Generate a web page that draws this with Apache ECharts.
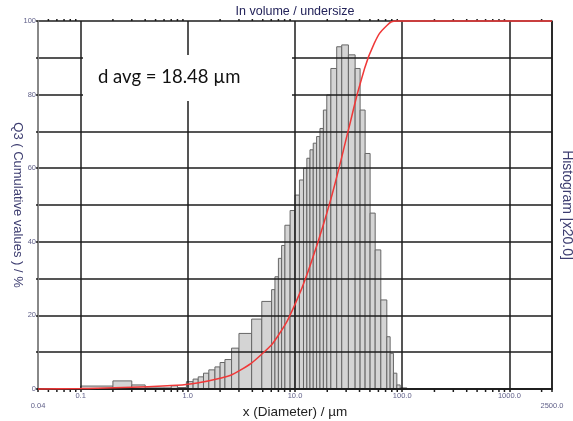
<!DOCTYPE html>
<html>
<head>
<meta charset="utf-8">
<script src="https://cdn.jsdelivr.net/npm/echarts@6/dist/echarts.min.js"></script>
<style>html,body{margin:0;padding:0;background:#fff;}#c{width:573px;height:421px;}</style>
</head>
<body>
<div id="c"></div>
<script>
// Histogram bin edges (µm) and bar heights (scaled x20, same 0-100 axis)
const binEdges = [0.1, 0.2, 0.3, 0.4, 0.5, 0.6, 0.7, 0.8, 0.97, 1.12, 1.25, 1.4, 1.57, 1.79, 2.0, 2.22, 2.56, 3.0, 3.94, 4.9,
  6.05, 6.5, 7.0, 7.5, 8.05, 9.0, 10.0, 11.0, 12.0, 12.9, 13.8, 14.8, 15.9, 17.1, 18.4, 19.8, 21.6, 24.5, 27.3, 31.5,
  36.4, 40.5, 45.1, 50.2, 56.0, 63.2, 71.9, 77.2, 82.9, 89.2, 95.8, 110.6];
const binHeights = [0.8, 2.2, 1.1, 0.3, 0.3, 0.3, 0.9, 0.4, 2.0, 2.7, 3.3, 4.3, 5.2, 6.0, 7.2, 8.0, 11.1, 15.1, 19.0, 23.8,
  27.0, 30.5, 35.5, 39.0, 44.5, 48.5, 52.7, 56.8, 60.0, 62.7, 65.0, 66.8, 68.6, 70.8, 75.8, 79.9, 87.1, 93.0, 93.5, 90.8,
  87.1, 75.8, 64.0, 47.8, 37.8, 24.2, 14.2, 9.7, 4.3, 1.1, 0.3];

// Cumulative curve Q3 (%)
const cumDiameter = [0.04, 0.1, 0.3, 0.7, 1.0, 2.0, 3.0, 5.0, 7.0, 10, 14, 20, 25, 32, 42, 55, 72, 90, 1000, 2500];
const cumQ3 = [0, 0.15, 0.45, 0.95, 1.3, 2.9, 4.9, 9.7, 14.6, 23.0, 34.0, 48.2, 58.6, 71.2, 84.5, 94.0, 98.8, 100, 100, 100];

// Axis tick labels
const xTickValues = [0.04, 0.1, 1, 10, 100, 1000, 2500];
const xTickLabels = ['0.04', '0.1', '1.0', '10.0', '100.0', '1000.0', '2500.0'];
const minorTickValues = [0.05, 0.06, 0.07, 0.08, 0.09, 0.2, 0.3, 0.4, 0.5, 0.6, 0.7, 0.8, 0.9,
  2, 3, 4, 5, 6, 7, 8, 9, 20, 30, 40, 50, 60, 70, 80, 90, 200, 300, 400, 500, 600, 700, 800, 900, 2000];
const yTickLabels = ['0', '20', '40', '60', '80', '100'];

const bins = binHeights.map((h, i) => [binEdges[i], binEdges[i + 1], h]);
const cumData = cumDiameter.map((d, i) => [d, cumQ3[i]]);

const labelColor = '#5f5f88';
const gridColor = '#1c1c1c';

const chart = echarts.init(document.getElementById('c'), null, {renderer: 'canvas'});
chart.setOption({
  animation: false,
  backgroundColor: '#fff',
  grid: {left: 38, right: 21, top: 21, bottom: 32, containLabel: false, outerBoundsMode: 'none'},
  xAxis: [{
    type: 'log', logBase: 10, min: 0.04, max: 2500, position: 'bottom',
    axisLine: {show: true, lineStyle: {color: gridColor, width: 1.5}},
    axisTick: {show: true, length: 3, inside: false, lineStyle: {color: gridColor, width: 1.5}},
    splitLine: {show: true, lineStyle: {color: gridColor, width: 1.5}},
    minorTick: {show: false}, minorSplitLine: {show: false},
    axisLabel: {
      show: true, showMinLabel: true, showMaxLabel: true, margin: 3,
      fontFamily: 'Liberation Sans', fontSize: 7.5, color: labelColor,
      formatter: function (v) {
        let idx = 0, best = Infinity;
        xTickValues.forEach((t, i) => { const d = Math.abs(Math.log10(t) - Math.log10(v)); if (d < best) { best = d; idx = i; } });
        const s = xTickLabels[idx];
        return (idx === 0 || idx === xTickValues.length - 1) ? '{lo|' + s + '}' : s;
      },
      rich: {lo: {fontFamily: 'Liberation Sans', fontSize: 7.5, color: labelColor, padding: [10, 0, 0, 0]}}
    },
    name: 'x (Diameter) / µm', nameLocation: 'middle', nameGap: 16, nameMoveOverlap: false,
    nameTextStyle: {fontFamily: 'Liberation Sans', fontSize: 13.5, color: '#222'}
  }, {
    type: 'log', logBase: 10, min: 0.04, max: 2500, position: 'top',
    axisLine: {show: true, lineStyle: {color: gridColor, width: 1.5}},
    axisTick: {show: false}, axisLabel: {show: false}, splitLine: {show: false}
  }],
  yAxis: [{
    type: 'value', min: 0, max: 100, interval: 10, position: 'left',
    axisLine: {show: true, lineStyle: {color: '#9a9a9a', width: 1.5}},
    axisTick: {show: true, length: 2, lineStyle: {color: gridColor, width: 1.5}},
    splitLine: {show: true, lineStyle: {color: gridColor, width: 1.5}},
    axisLabel: {
      margin: 2, fontFamily: 'Liberation Sans', fontSize: 7.5, color: labelColor,
      formatter: function (v) { const s = String(v); return yTickLabels.indexOf(s) >= 0 ? s : ''; }
    },
    name: 'Q3 ( Cumulative values ) / %', nameLocation: 'middle', nameRotate: -90, nameGap: 14, nameMoveOverlap: false,
    nameTextStyle: {fontFamily: 'Liberation Sans', fontSize: 13, color: '#3d3d70'}
  }, {
    type: 'value', min: 0, max: 100, interval: 10, position: 'right',
    axisLine: {show: true, lineStyle: {color: gridColor, width: 1.5}},
    axisTick: {show: false}, axisLabel: {show: false}, splitLine: {show: false},
    name: 'Histogram [x20.0]', nameLocation: 'middle', nameRotate: -90, nameGap: 8, nameMoveOverlap: false,
    nameTextStyle: {fontFamily: 'Liberation Sans', fontSize: 14, color: '#3d3d70'}
  }],
  graphic: [{
    type: 'text', z: 101, x: 295, y: 12,
    style: {text: 'In volume / undersize', fontFamily: 'Liberation Sans', fontSize: 12.5, fill: '#23235a', align: 'center', verticalAlign: 'middle'}
  }, {
    type: 'rect', z: 100, shape: {x: 83, y: 55, width: 209, height: 46},
    style: {fill: '#fff'}
  }, {
    type: 'text', z: 101, x: 98, y: 77,
    style: {text: 'd avg = 18.48 µm', fontFamily: 'Lato', fontSize: 18.5, fill: '#111', verticalAlign: 'middle'}
  }],
  series: [{
    type: 'custom', name: 'hist', z: -1,
    xAxisIndex: 0, yAxisIndex: 0,
    dimensions: ['x0', 'x1', 'h'],
    encode: {x: [0, 1], y: 2},
    data: bins,
    renderItem: function (params, api) {
      const p0 = api.coord([api.value(0), api.value(2)]);
      const p1 = api.coord([api.value(1), 0]);
      return {
        type: 'rect',
        shape: {x: p0[0], y: p0[1], width: p1[0] - p0[0], height: p1[1] - p0[1]},
        style: {fill: '#d4d4d4', stroke: '#666', lineWidth: 1}
      };
    }
  }, {
    type: 'custom', name: 'minorTicks', z: 3, silent: true,
    xAxisIndex: 0, yAxisIndex: 0,
    encode: {x: 0},
    data: minorTickValues.map(v => [v]),
    clip: false,
    renderItem: function (params, api) {
      const b = api.coord([api.value(0), 0]);
      const t = api.coord([api.value(0), 100]);
      return {
        type: 'group', children: [
          {type: 'line', shape: {x1: b[0], y1: b[1], x2: b[0], y2: b[1] + 3}, style: {stroke: gridColor, lineWidth: 1.5}},
          {type: 'line', shape: {x1: t[0], y1: t[1], x2: t[0], y2: t[1] - 2}, style: {stroke: gridColor, lineWidth: 1.5}}
        ]
      };
    }
  }, {
    type: 'line', name: 'Q3', z: 10,
    xAxisIndex: 0, yAxisIndex: 0,
    data: cumData, smooth: 0.5, showSymbol: false, clip: false,
    lineStyle: {color: '#f03838', width: 1.5}
  }]
});
</script>
</body>
</html>
